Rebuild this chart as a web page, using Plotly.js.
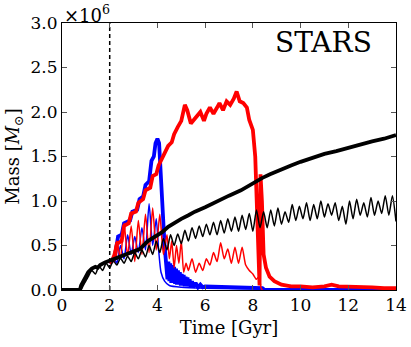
<!DOCTYPE html>
<html><head><meta charset="utf-8">
<script src="https://cdn.plot.ly/plotly-3.0.1.min.js"></script>
<style>html,body{margin:0;padding:0;background:#fff}#chart{width:411px;height:347px}</style>
</head><body><div id="chart"></div>
<script>
// Values in units of 1e6 solar masses; time in Gyr
const blackThickT = [0,0.75,0.8,0.9,1.0,1.1,1.25,1.4,1.5,1.6,1.8,2.0,2.2,2.5,2.8,3.0,3.26,3.6,4.0,4.2,4.45,4.8,5.0,5.3,5.57,6.0,6.5,7.0,7.5,8.0,8.4,8.72,9.14,9.6,10.0,10.4,11.0,11.5,12.0,12.5,13.0,13.5,14.0];
const blackThickM = [0,0,0.05,0.1,0.13,0.2,0.24,0.26,0.25,0.28,0.31,0.33,0.35,0.39,0.42,0.44,0.46,0.55,0.62,0.65,0.71,0.77,0.8,0.84,0.88,0.93,1.0,1.06,1.12,1.2,1.26,1.3,1.35,1.4,1.44,1.48,1.53,1.56,1.6,1.64,1.67,1.7,1.74];

const blackThinT = [0.8,0.95,1.1,1.25,1.4,1.55,1.7,1.85,2.0,2.15,2.3,2.45,2.6,2.75,2.9,3.05,3.2,3.35,3.5,3.65,3.8,3.95,4.1,4.25,4.4,4.55,4.7,4.85,5.0,5.15,5.3,5.45,5.6,5.75,5.9,6.05,6.2,6.35,6.5,6.65,6.8,6.95,7.1,7.25,7.4,7.55,7.7,7.85,8.0,8.15,8.3,8.45,8.6,8.75,8.9,9.05,9.2,9.35,9.5,9.65,9.8,9.95,10.1,10.25,10.4,10.55,10.7,10.85,11.0,11.15,11.3,11.45,11.6,11.75,11.9,12.05,12.2,12.35,12.5,12.65,12.8,12.95,13.1,13.25,13.4,13.55,13.7,13.85,14.0];
const blackThinM = [0.0,0.08,0.15,0.22,0.18,0.27,0.22,0.3,0.25,0.33,0.28,0.36,0.3,0.38,0.32,0.42,0.35,0.45,0.37,0.5,0.4,0.55,0.42,0.58,0.45,0.62,0.5,0.63,0.52,0.67,0.55,0.7,0.58,0.72,0.6,0.74,0.62,0.76,0.62,0.78,0.64,0.8,0.66,0.82,0.66,0.84,0.68,0.86,0.66,0.9,0.7,0.88,0.7,0.9,0.72,0.92,0.74,0.88,0.76,0.96,0.78,0.94,0.8,0.98,0.78,0.96,0.8,1.0,0.82,0.97,0.84,0.98,0.78,0.94,0.74,1.0,0.8,1.02,0.84,0.98,0.82,1.04,0.84,1.0,0.86,1.06,0.84,1.06,0.77];

const redThickT = [2.0,2.2,2.3,2.5,2.6,2.8,2.9,3.1,3.2,3.4,3.5,3.7,3.8,3.95,4.05,4.2,4.35,4.45,4.6,4.7,4.85,5.0,5.15,5.25,5.4,5.55,5.7,5.8,5.95,6.05,6.2,6.35,6.5,6.6,6.75,6.9,7.05,7.2,7.32,7.45,7.6,7.75,7.85,8.0,8.1,8.15,8.2,8.25,8.28,8.32,8.38,8.45,8.55,8.7,8.9,9.2,9.6,10.0,10.5,11.0,11.3,11.6,12.0,12.5,13.0,13.5,14.0];
const redThickM = [0.3,0.35,0.52,0.55,0.72,0.75,0.86,0.88,0.98,1.02,1.12,1.15,1.28,1.3,1.4,1.48,1.55,1.62,1.66,1.75,1.83,1.9,2.08,2.02,1.87,1.92,1.97,2.0,1.9,1.98,2.05,1.98,2.05,2.1,2.02,2.12,2.08,2.15,2.23,2.12,2.1,2.05,1.91,1.8,1.5,1.1,0.6,0.3,0.05,1.3,1.0,0.4,0.25,0.15,0.1,0.06,0.04,0.04,0.03,0.04,0.06,0.04,0.04,0.03,0.03,0.02,0.02];

const redThinT = [2.0,2.15,2.3,2.45,2.6,2.75,2.9,3.05,3.2,3.35,3.5,3.65,3.8,3.95,4.1,4.25,4.4,4.5,4.6,4.7,4.8,4.9,5.0,5.1,5.2,5.3,5.45,5.6,5.75,5.9,6.05,6.2,6.35,6.5,6.65,6.8,6.95,7.1,7.25,7.4,7.55,7.7,7.85,8.0,8.15,8.25,8.35,8.4];
const redThinM = [0.3,0.4,0.55,0.35,0.75,0.38,0.72,0.32,0.78,0.4,0.85,0.42,0.92,0.45,0.85,0.4,0.62,0.35,0.55,0.25,0.5,0.3,0.55,0.2,0.3,0.22,0.35,0.2,0.3,0.22,0.35,0.28,0.42,0.32,0.53,0.35,0.46,0.3,0.48,0.3,0.48,0.28,0.22,0.18,0.12,0.15,0.02,0.0];

const blueThickT = [2.0,2.2,2.35,2.5,2.6,2.85,2.95,3.15,3.25,3.4,3.5,3.65,3.75,3.85,3.92,4.0,4.07,4.12,4.2,4.3,4.38,4.42,4.46,4.5,4.54,4.58,4.62,4.66,4.7,4.74,4.78,4.82,4.86,4.9,4.94,4.98,5.02,5.06,5.1,5.14,5.18,5.22,5.26,5.3,5.35,5.4,5.45,5.5,5.6,5.7,5.8,5.9,6.0,7.0,8.0,8.4,8.5,14.0];
const blueThickM = [0.3,0.35,0.6,0.62,0.75,0.78,0.88,0.9,1.02,1.05,1.18,1.22,1.45,1.5,1.65,1.7,1.65,1.45,1.0,0.5,0.3,0.12,0.32,0.1,0.3,0.08,0.28,0.08,0.26,0.07,0.24,0.06,0.22,0.06,0.2,0.05,0.18,0.05,0.17,0.04,0.15,0.04,0.14,0.04,0.12,0.03,0.1,0.03,0.08,0.03,0.06,0.03,0.04,0.03,0.02,0.02,0.0,0.0];

const blueThinT = [2.0,2.15,2.3,2.45,2.6,2.75,2.9,3.05,3.2,3.35,3.5,3.65,3.8,3.95,4.05,4.15,4.3,4.5,5.0,6.0,8.5,14.0];
const blueThinM = [0.3,0.38,0.3,0.5,0.35,0.62,0.4,0.6,0.42,0.7,0.45,0.97,0.5,0.8,0.45,0.2,0.1,0.05,0.03,0.02,0.01,0.0];

const markerTime = [2, 2];
const markerSpan = [0, 3];

const xTicks = [0,2,4,6,8,10,12,14];
const yTicks = [0,0.5,1.0,1.5,2.0,2.5,3.0];

const serif = 'DejaVu Serif';

const traces = [
  {x: blueThickT, y: blueThickM, mode: 'lines', line: {color: 'blue', width: 3.8}},
  {x: blueThinT, y: blueThinM, mode: 'lines', line: {color: 'blue', width: 1.5, shape: 'spline', smoothing: 0.6}},
  {x: redThickT, y: redThickM, mode: 'lines', line: {color: 'red', width: 3.8}},
  {x: redThinT, y: redThinM, mode: 'lines', line: {color: 'red', width: 1.5, shape: 'spline', smoothing: 0.6}},
  {x: blackThinT, y: blackThinM, mode: 'lines', line: {color: 'black', width: 1.5, shape: 'spline', smoothing: 0.6}},
  {x: blackThickT, y: blackThickM, mode: 'lines', line: {color: 'black', width: 3.8}},
  {x: markerTime, y: markerSpan, mode: 'lines', line: {color: 'black', width: 1.5, dash: '4px,3px'}}
];

const axisCommon = {
  showgrid: false, zeroline: false, showline: true, linecolor: 'black', linewidth: 1,
  mirror: 'allticks', ticks: 'inside', ticklen: 5, tickwidth: 1, tickcolor: '#555',
  tickfont: {family: serif, size: 17, color: 'black'}
};

const layout = {
  width: 411, height: 347,
  margin: {l: 62, r: 15, t: 23, b: 57},
  paper_bgcolor: 'white', plot_bgcolor: 'white',
  showlegend: false,
  font: {family: serif, color: 'black'},
  xaxis: Object.assign({}, axisCommon, {
    range: [0, 14], tickvals: xTicks, ticktext: xTicks.map(String),
    title: {text: 'Time [Gyr]', font: {family: serif, size: 18, color: 'black'}, standoff: 6}
  }),
  yaxis: Object.assign({}, axisCommon, {
    range: [0, 3], tickvals: yTicks, ticktext: yTicks.map(v => v.toFixed(1)),
    title: {text: 'Mass [<i>M</i><sub>⊙</sub>]', font: {family: serif, size: 18, color: 'black'}, standoff: 6}
  }),
  annotations: [
    {xref: 'paper', yref: 'paper', x: 0.0, y: 1.0, xanchor: 'left', yanchor: 'bottom',
     text: '×10<sup>6</sup>', showarrow: false, font: {family: serif, size: 18, color: 'black'}, yshift: -5},
    {xref: 'paper', yref: 'paper', x: 0.935, y: 0.995, xanchor: 'right', yanchor: 'top',
     text: 'STARS', showarrow: false, font: {family: serif, size: 28, color: 'black'}}
  ]
};

Plotly.newPlot('chart', traces, layout, {staticPlot: true, displayModeBar: false});
</script>
</body></html>
